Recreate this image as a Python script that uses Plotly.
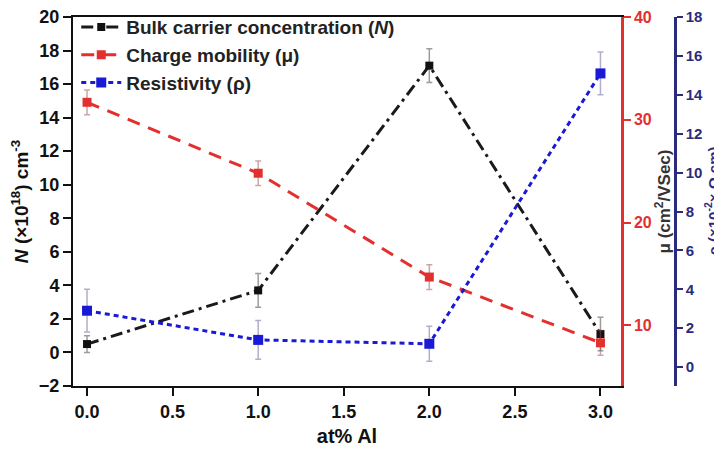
import plotly.graph_objects as go

x_al = [0.0, 1.0, 2.0, 3.0]
n_carrier = [0.5, 3.7, 17.1, 1.1]
n_err = [0.5, 1.0, 1.0, 1.0]
mobility = [31.7, 24.8, 14.7, 8.3]
mob_err = [1.2, 1.2, 1.2, 1.2]
resistivity = [2.9, 1.4, 1.2, 15.1]
res_err = [1.1, 1.0, 0.9, 1.1]

left_ticks = list(range(-2, 21, 2))
red_ticks = [10, 20, 30, 40]
blue_ticks = list(range(0, 19, 2))
x_ticks = [0.0, 0.5, 1.0, 1.5, 2.0, 2.5, 3.0]

FONT = "Liberation Sans, Arial, sans-serif"
BLACK = "#111111"
RED = "#e3302f"
BLUE = "#1a1ad6"
NAVY = "#2b2b7e"

fig = go.Figure()
fig.add_trace(go.Scatter(
    x=x_al, y=n_carrier, mode="lines+markers",
    name="Bulk carrier concentration (<i>N</i>)",
    line=dict(color="#1a1a1a", width=3, dash="12px,5px,3px,5px"),
    marker=dict(symbol="square", size=8, color=BLACK),
    error_y=dict(type="data", array=n_err, color="rgba(90,90,90,0.6)", thickness=1.5, width=3),
    yaxis="y"))
fig.add_trace(go.Scatter(
    x=x_al, y=mobility, mode="lines+markers",
    name="Charge mobility (μ)",
    line=dict(color=RED, width=3, dash="13px,9px"),
    marker=dict(symbol="square", size=9, color=RED),
    error_y=dict(type="data", array=mob_err, color="rgba(150,80,80,0.5)", thickness=1.5, width=3),
    yaxis="y2"))
fig.add_trace(go.Scatter(
    x=x_al, y=resistivity, mode="lines+markers",
    name="Resistivity (ρ)",
    line=dict(color=BLUE, width=3, dash="5px,4px"),
    marker=dict(symbol="square", size=10, color=BLUE),
    error_y=dict(type="data", array=res_err, color="rgba(110,110,160,0.55)", thickness=1.5, width=3),
    yaxis="y3"))

# page has an 8px body margin: figure pixel = page pixel - 8
OFF = 8
W, H = 722 - OFF, 451 - OFF
ml, mr, mt, mb = 73 - OFF, 0, 15 - OFF, 451 - 386
pw = W - ml - mr
x_end = (621 - OFF - ml) / pw
blue_pos = (675 - OFF - ml) / pw
blue_title_x = (712 - OFF - ml) / pw

tickfont = dict(family=FONT, size=18, color=BLACK, weight="bold")

fig.update_layout(
    width=W, height=H,
    margin=dict(l=ml, r=mr, t=mt, b=mb),
    plot_bgcolor="white", paper_bgcolor="white",
    font=dict(family=FONT, color=BLACK),
    showlegend=True,
    legend=dict(x=0.005, y=1.024, xanchor="left", yanchor="top",
                bgcolor="rgba(0,0,0,0)",
                font=dict(family=FONT, size=19, color="#222", weight="bold"),
                itemwidth=40, tracegroupgap=0),
    xaxis=dict(domain=[0, x_end], range=[-0.082, 3.12],
               tickvals=x_ticks, ticktext=[f"{v:.1f}" for v in x_ticks],
               ticks="outside", ticklen=8, tickwidth=2, tickcolor=BLACK,
               showline=True, linewidth=2, linecolor=BLACK, mirror=True,
               showgrid=False, zeroline=False, tickfont=tickfont,
               ticklabeloverflow="allow",
               title=dict(text="at% Al", font=dict(family=FONT, size=20, color=BLACK, weight="bold"), standoff=8)),
    yaxis=dict(range=[-2, 20], tickvals=left_ticks,
               ticks="outside", ticklen=8, tickwidth=2, tickcolor=BLACK,
               showline=True, linewidth=2, linecolor=BLACK,
               showgrid=False, zeroline=False, tickfont=tickfont,
               ticklabeloverflow="allow",
               title=dict(text="<i>N</i> (×10<sup>18</sup>) cm<sup>-3</sup>",
                          font=dict(family=FONT, size=19, color=BLACK, weight="bold"), standoff=8)),
    yaxis2=dict(range=[4.1, 40], tickvals=red_ticks, overlaying="y", side="right", anchor="x",
                ticks="outside", ticklen=7, tickwidth=2, tickcolor=RED,
                showline=True, linewidth=2.5, linecolor=RED,
                showgrid=False, zeroline=False,
                tickfont=dict(family=FONT, size=16, color=RED, weight="bold"),
                ticklabeloverflow="allow",
                title=dict(text="μ (cm<sup>2</sup>/VSec)",
                           font=dict(family=FONT, size=17, color="#333", weight="bold"), standoff=0)),
    yaxis3=dict(range=[-0.97, 18], tickvals=blue_ticks, overlaying="y", side="right",
                anchor="free", position=blue_pos,
                ticks="outside", ticklen=6, tickwidth=2, tickcolor=NAVY,
                showline=True, linewidth=2.5, linecolor=NAVY,
                showgrid=False, zeroline=False,
                ticklabeloverflow="allow",
                tickfont=dict(family=FONT, size=15, color=NAVY, weight="bold")),
    annotations=[dict(text="ρ (×10<sup>-2</sup>× Ω cm)", xref="paper", yref="paper",
                      x=blue_title_x, y=0.5, textangle=-90, showarrow=False,
                      xanchor="center", yanchor="middle",
                      font=dict(family=FONT, size=15, color=NAVY, weight="bold"))],
)

fig.write_html("out.html")
